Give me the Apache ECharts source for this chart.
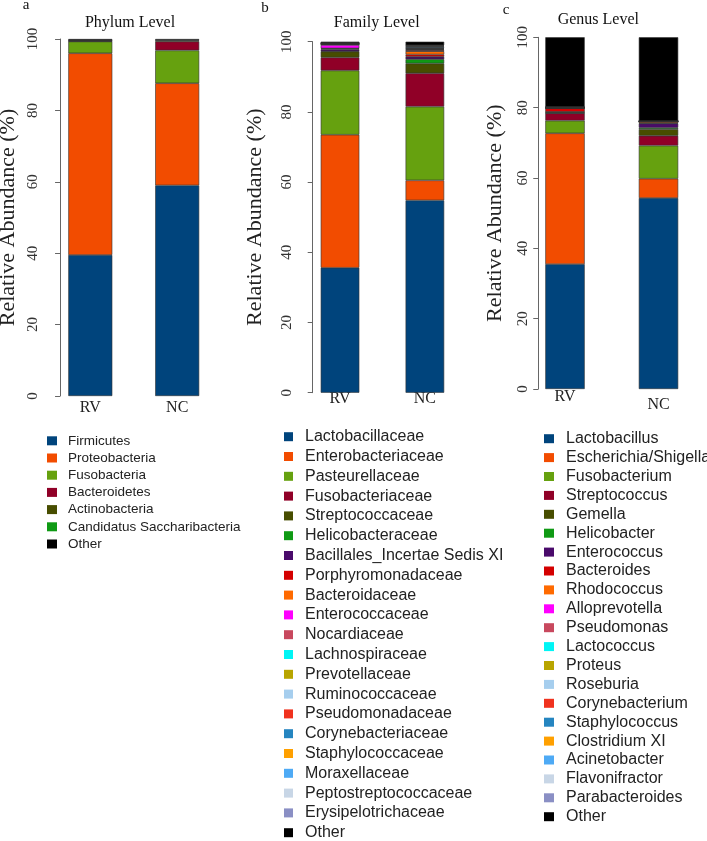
<!DOCTYPE html>
<html>
<head>
<meta charset="utf-8">
<script src="https://cdn.jsdelivr.net/npm/echarts@6/dist/echarts.min.js"></script>
<style>
html,body{margin:0;padding:0;background:#fff;}
#chart{width:707px;height:841px;}
</style>
</head>
<body>
<div id="chart"></div>
<script>
// ---------- data ----------
const groups = ['RV', 'NC'];
const yTicks = [0, 20, 40, 60, 80, 100];

const phylumNames = ['Firmicutes', 'Proteobacteria', 'Fusobacteria', 'Bacteroidetes', 'Actinobacteria', 'Candidatus Saccharibacteria', 'Other'];
const phylumColors = ['#00447C', '#F24C00', '#66A10F', '#900027', '#474D00', '#0F9A14', '#000000'];
const phylumRV = [39.5, 56.5, 3.3, 0.1, 0.1, 0.05, 0.45];
const phylumNC = [59.0, 28.6, 9.2, 2.5, 0.3, 0.1, 0.3];

const familyNames = ['Lactobacillaceae', 'Enterobacteriaceae', 'Pasteurellaceae', 'Fusobacteriaceae', 'Streptococcaceae', 'Helicobacteraceae', 'Bacillales_Incertae Sedis XI', 'Porphyromonadaceae', 'Bacteroidaceae', 'Enterococcaceae', 'Nocardiaceae', 'Lachnospiraceae', 'Prevotellaceae', 'Ruminococcaceae', 'Pseudomonadaceae', 'Corynebacteriaceae', 'Staphylococcaceae', 'Moraxellaceae', 'Peptostreptococcaceae', 'Erysipelotrichaceae', 'Other'];
const familyColors = ['#00447C', '#F24C00', '#66A10F', '#900027', '#474D00', '#0F9A14', '#4A0A6B', '#D40000', '#FF6A00', '#FF00FF', '#C8485E', '#00F5F5', '#B8A500', '#A6CEEE', '#F0321E', '#2585C0', '#FFA000', '#4EAAF5', '#C8D6E6', '#8A8FC4', '#000000'];
const familyRV = [35.6, 37.9, 18.3, 3.7, 1.7, 0.1, 0.5, 0.2, 0.1, 1.0, 0.1, 0.05, 0.05, 0.05, 0.1, 0.05, 0.05, 0.05, 0.05, 0.05, 0.3];
const familyNC = [54.8, 5.7, 21.0, 9.5, 2.8, 1.2, 0.7, 0.65, 0.95, 0.1, 0.3, 0.15, 0.1, 0.15, 0.1, 0.3, 0.1, 0.2, 0.1, 0.1, 1.0];

const genusNames = ['Lactobacillus', 'Escherichia/Shigella', 'Fusobacterium', 'Streptococcus', 'Gemella', 'Helicobacter', 'Enterococcus', 'Bacteroides', 'Rhodococcus', 'Alloprevotella', 'Pseudomonas', 'Lactococcus', 'Proteus', 'Roseburia', 'Corynebacterium', 'Staphylococcus', 'Clostridium XI', 'Acinetobacter', 'Flavonifractor', 'Parabacteroides', 'Other'];
const genusColors = ['#00447C', '#F24C00', '#66A10F', '#900027', '#474D00', '#0F9A14', '#4A0A6B', '#D40000', '#FF6A00', '#FF00FF', '#C8485E', '#00F5F5', '#B8A500', '#A6CEEE', '#F0321E', '#2585C0', '#FFA000', '#4EAAF5', '#C8D6E6', '#8A8FC4', '#000000'];
const genusRV = [35.5, 37.2, 3.6, 2.1, 0.05, 0.3, 0.05, 1.1, 0.02, 0.02, 0.02, 0.02, 0.02, 0.02, 0.02, 0.02, 0.02, 0.02, 0.02, 0.02, 19.86];
const genusNC = [54.3, 5.5, 9.4, 2.8, 1.9, 0.4, 1.2, 0.1, 0.4, 0.02, 0.02, 0.02, 0.02, 0.02, 0.02, 0.02, 0.02, 0.02, 0.02, 0.02, 23.78];

// ---------- layout ----------
const SERIF = '"Liberation Serif", "Times New Roman", serif';
const SANS = '"Liberation Sans", Arial, sans-serif';

const panels = [
  {names: phylumNames, colors: phylumColors, rv: phylumRV, nc: phylumNC,
   grid: {left: 46.85, top: 39, width: 173.8, height: 357}, offset: -13.2, barWidth: 44,
   labelMargin: 19, nameGap: 41, xMargin: 4,
   legend: {left: 47, top: 433.8, font: 13.5, lh: 14, gap: 3.2, iw: 10, ih: 9, pad: 6}},
  {names: familyNames, colors: familyColors, rv: familyRV, nc: familyNC,
   grid: {left: 297.6, top: 41.7, width: 169.7, height: 351}, offset: -15.1, barWidth: 38.6,
   labelMargin: 18, nameGap: 46, xMargin: -2,
   legend: {left: 284, top: 428.7, font: 16, lh: 16, gap: 3.8, iw: 9, ih: 9, pad: 7}},
  {names: genusNames, colors: genusColors, rv: genusRV, nc: genusNC,
   grid: {left: 518.25, top: 37.3, width: 187, height: 351.7}, offset: -20, barWidth: 39.4,
   labelMargin: 8, nameGap: 32, xMargin: 0,
   legend: {left: 544, top: 430.7, font: 16, lh: 16, gap: 2.9, iw: 10, ih: 9, pad: 7}}
];

const grids = [], xAxes = [], yAxes = [], series = [], legends = [];
panels.forEach((p, k) => {
  grids.push(Object.assign({containLabel: false, outerBoundsMode: 'none'}, p.grid));
  xAxes.push({
    type: 'category', gridIndex: k, data: groups,
    axisLine: {show: false}, axisTick: {show: false},
    axisLabel: {
      margin: p.xMargin, fontFamily: SERIF, fontSize: 16, color: '#222', lineHeight: 16,
      formatter: (v) => k === 2 && v === 'NC' ? '{lo|' + v + '}' : v,
      rich: {lo: {fontFamily: SERIF, fontSize: 16, color: '#222', lineHeight: 16, padding: [16, 0, 0, 0]}}
    }
  });
  yAxes.push({
    type: 'value', gridIndex: k, min: yTicks[0], max: yTicks[yTicks.length - 1], interval: 20,
    offset: p.offset,
    name: 'Relative Abundance (%)', nameLocation: 'middle', nameGap: p.nameGap,
    nameTextStyle: {fontFamily: SERIF, fontSize: 22, color: '#222'},
    axisLine: {show: true, lineStyle: {color: '#666', width: 1}},
    axisTick: {show: true, length: 5, lineStyle: {color: '#666'}},
    splitLine: {show: false},
    axisLabel: {rotate: 90, margin: p.labelMargin, fontFamily: SERIF, fontSize: 15, color: '#333'}
  });
  p.names.forEach((n, i) => {
    series.push({
      type: 'bar', name: n, stack: 'p' + k, xAxisIndex: k, yAxisIndex: k,
      data: [p.rv[i], p.nc[i]], barWidth: p.barWidth,
      itemStyle: {color: p.colors[i], borderColor: '#333', borderWidth: 0.6},
      emphasis: {disabled: true}, silent: true
    });
  });
  legends.push({
    orient: 'vertical', left: p.legend.left, top: p.legend.top, padding: 0,
    height: 600,
    itemGap: p.legend.gap, itemWidth: p.legend.iw, itemHeight: p.legend.ih, icon: 'rect',
    selectedMode: false,
    data: p.names.map((n, i) => ({name: n, itemStyle: {color: p.colors[i], borderWidth: 0}})),
    textStyle: {fontFamily: SANS, fontSize: p.legend.font, color: '#222', lineHeight: p.legend.lh, padding: [0, 0, 0, p.legend.pad]}
  });
});

const txt = (t, x, y, size, align) => ({
  type: 'text', x: x, y: y, silent: true,
  style: {text: t, fontFamily: SERIF, fontSize: size, fill: '#111', textAlign: align || 'center', textVerticalAlign: 'middle'}
});

const chart = echarts.init(document.getElementById('chart'), null, {renderer: 'canvas'});
chart.setOption({
  animation: false,
  backgroundColor: '#fff',
  grid: grids, xAxis: xAxes, yAxis: yAxes, series: series, legend: legends,
  graphic: [
    txt('a', 26, 5, 15), txt('b', 265, 8, 15), txt('c', 506, 10, 15),
    txt('Phylum Level', 130, 22.7, 16), txt('Family Level', 376.7, 22.7, 16), txt('Genus Level', 598.3, 20, 16)
  ]
});
</script>
</body>
</html>
